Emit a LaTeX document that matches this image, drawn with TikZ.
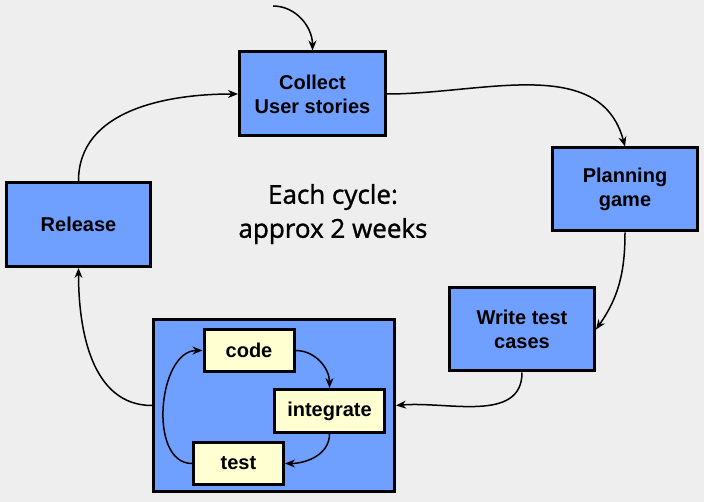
\documentclass[tikz,border=0pt]{standalone}
\usepackage{fontspec}
\setmainfont{Liberation Sans}
\newfontfamily\comicfont[FakeBold=1.2]{Open Sans}
\usetikzlibrary{arrows.meta}
\definecolor{bg}{HTML}{EEEEEE}
\definecolor{boxblue}{HTML}{70A0FF}
\definecolor{boxyellow}{HTML}{FFFFD2}
\tikzset{
  bluebox/.style={draw=black, line width=3pt, fill=boxblue, align=center,
    font=\fontsize{20}{24}\selectfont\bfseries, inner sep=0pt},
  yellowbox/.style={draw=black, line width=3pt, fill=boxyellow, align=center,
    font=\fontsize{20}{24}\selectfont\bfseries, inner sep=0pt},
  arr/.style={line width=1.5pt, -{Stealth[length=10pt,width=8pt]}},
}
\begin{document}
\begin{tikzpicture}[x=1pt,y=-1pt]
\fill[bg] (0,0) rectangle (704,502);
\useasboundingbox (0,0) rectangle (704,502);
\node[bluebox, minimum width=146pt, minimum height=84pt] (collect) at (312.5,94) {Collect\\User stories};
\node[bluebox, minimum width=145pt, minimum height=83pt] (planning) at (625,189.5) {Planning\\game};
\node[bluebox, minimum width=145pt, minimum height=83pt] (write) at (522,329.5) {Write test\\cases};
\node[bluebox, minimum width=144pt, minimum height=84pt] (release) at (78.5,224.5) {Release};
\node[bluebox, minimum width=241pt, minimum height=172pt] (big) at (274,405.5) {};
\node[yellowbox, minimum width=90pt, minimum height=42pt] (code) at (249,350.5) {code};
\node[yellowbox, minimum width=110pt, minimum height=43pt] (integrate) at (329.5,411) {integrate};
\node[yellowbox, minimum width=90pt, minimum height=42pt] (test) at (238.5,463.5) {test};
\node[font=\comicfont\fontsize{26}{34}\selectfont, align=center] (cycle) at (333,214) {Each cycle:\\approx 2 weeks};
\coordinate (start) at (273,6);
\draw[arr] (start) to[out=0,in=90] (collect.north);
\draw[arr] (collect.east) to[out=0,in=105] (planning.north);
\draw[arr] (planning.south) to[out=-90,in=55] (write.east);
\draw[arr] (write.south) to[out=-90,in=5] (big.east);
\draw[arr] (big.west) to[out=180,in=-90] (release.south);
\draw[arr] (release.north) to[out=90,in=180] (collect.west);
\draw[arr] (code.east) to[out=0,in=90] (integrate.north);
\draw[arr] (integrate.south) to[out=-90,in=0] (test.east);
\draw[arr] (test.west) to[out=180,in=180] (code.west);
\end{tikzpicture}
\end{document}
